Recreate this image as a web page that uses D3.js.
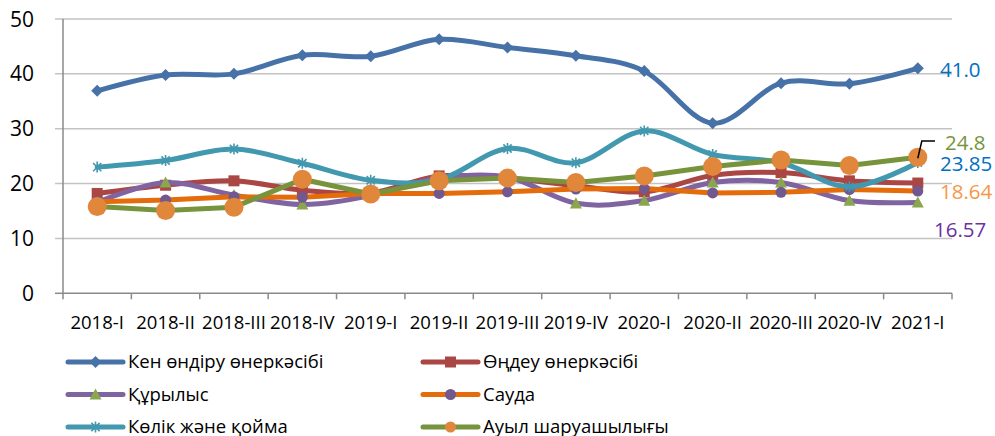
<!DOCTYPE html>
<html lang="kk">
<head>
<meta charset="utf-8">
<style>
  body { margin: 0; background: #fff; }
  text { font-family: "Open Sans", sans-serif; fill: #000; }
  .grid line { stroke: #c3c3c3; stroke-width: 1.5; }
  .axis { stroke: #8a8a8a; stroke-width: 1.5; fill: none; }
  .line { fill: none; stroke-width: 5; stroke-linejoin: round; stroke-linecap: round; }
</style>
</head>
<body>
<script src="https://d3js.org/d3.v7.min.js"></script>
<script>
// data
var quarters = ["2018-I", "2018-II", "2018-III", "2018-IV", "2019-I", "2019-II", "2019-III",
                "2019-IV", "2020-I", "2020-II", "2020-III", "2020-IV", "2021-I"];
var mining      = [36.9, 39.8, 40.0, 43.4, 43.2, 46.3, 44.8, 43.3, 40.5, 31.0, 38.3, 38.2, 41.0];
var manufacture = [18.2, 19.7, 20.5, 18.8, 18.3, 21.4, 21.0, 19.6, 18.5, 21.5, 22.0, 20.5, 20.1];
var building    = [16.6, 20.2, 17.9, 16.2, 17.8, 21.0, 21.2, 16.4, 16.9, 20.2, 20.2, 16.9, 16.57];
var trade       = [16.7, 17.0, 17.6, 17.5, 18.2, 18.2, 18.5, 19.0, 19.1, 18.3, 18.4, 18.9, 18.64];
var transport   = [23.0, 24.2, 26.3, 23.7, 20.6, 20.7, 26.4, 23.8, 29.6, 25.3, 23.8, 19.4, 23.85];
var farming     = [15.8, 15.1, 15.7, 20.8, 18.1, 20.5, 21.0, 20.2, 21.4, 23.1, 24.3, 23.3, 24.8];
var seriesNames = ["Кен өндіру өнеркәсібі", "Өңдеу өнеркәсібі", "Құрылыс", "Сауда",
                   "Көлік және қойма", "Ауыл шаруашылығы"];
var yTicks = [0, 10, 20, 30, 40, 50];
var endLabels = ["41.0", "24.8", "23.85", "18.64", "16.57"];

var width = 995, height = 436;
var plotLeft = 63, plotRight = 952, plotTop = 19, plotBottom = 293.3;

var svg = d3.select("body").append("svg")
  .attr("width", width)
  .attr("height", height);

var x = d3.scaleBand().domain(quarters).range([plotLeft, plotRight]);
var y = d3.scaleLinear().domain([0, 50]).range([plotBottom, plotTop]);
var cx = function(q) { return x(q) + x.bandwidth() / 2; };

// marker shapes
function diamond(r) { return "M0," + (-r) + "L" + r + ",0L0," + r + "L" + (-r) + ",0Z"; }
function square(r) { return "M" + (-r) + "," + (-r) + "h" + 2 * r + "v" + 2 * r + "h" + (-2 * r) + "Z"; }
function triangle(r) { return "M0," + (-r) + "L" + r + "," + r * 0.85 + "L" + (-r) + "," + r * 0.85 + "Z"; }
function circle(r) { return d3.arc()({innerRadius: 0, outerRadius: r, startAngle: 0, endAngle: 2 * Math.PI}); }
function star(r) {
  var d = r * 0.75;
  return "M0," + (-r) + "V" + r + "M" + (-d) + "," + (-d) + "L" + d + "," + d + "M" + d + "," + (-d) + "L" + (-d) + "," + d;
}

var smooth = d3.curveCatmullRom.alpha(0);
var series = [
  {name: seriesNames[0], values: mining,      color: "#4672a8", mark: diamond(6),    mfill: "#4672a8", curve: smooth},
  {name: seriesNames[1], values: manufacture, color: "#aa4643", mark: square(5.5),   mfill: "#aa4643", curve: smooth},
  {name: seriesNames[2], values: building,    color: "#8064a2", mark: triangle(6),   mfill: "#8aa74e", curve: smooth},
  {name: seriesNames[3], values: trade,       color: "#e46c0a", mark: circle(5.5),   mfill: "#71588f", curve: d3.curveLinear},
  {name: seriesNames[4], values: transport,   color: "#4198af", mark: star(5.5),     mfill: "none", stroke: "#4198af", curve: smooth},
  {name: seriesNames[5], values: farming,     color: "#77933c", mark: circle(9.5),   mfill: "#e0873c", curve: d3.curveLinear}
];

// gridlines
svg.append("g").attr("class", "grid")
  .selectAll("line")
  .data(yTicks.slice(1))
  .enter().append("line")
  .attr("x1", plotLeft - 8).attr("x2", plotRight)
  .attr("y1", function(d) { return y(d); })
  .attr("y2", function(d) { return y(d); });

// axes
svg.append("path").attr("class", "axis")
  .attr("d", "M" + plotLeft + "," + plotTop + "V" + plotBottom + "H" + plotRight);
svg.append("g").selectAll("line")
  .data(quarters.concat(["end"]))
  .enter().append("line")
  .attr("class", "axis")
  .attr("x1", function(d, i) { return plotLeft + i * x.step(); })
  .attr("x2", function(d, i) { return plotLeft + i * x.step(); })
  .attr("y1", plotBottom).attr("y2", plotBottom + 6);
svg.append("line").attr("class", "axis")
  .attr("x1", plotLeft - 8).attr("x2", plotLeft).attr("y1", plotBottom).attr("y2", plotBottom);

svg.append("g").selectAll("text")
  .data(yTicks)
  .enter().append("text")
  .attr("x", 34)
  .attr("y", function(d) { return y(d); })
  .attr("dy", "0.36em")
  .attr("text-anchor", "end")
  .style("font-size", "21px")
  .text(function(d) { return d; });

svg.append("g").selectAll("text")
  .data(quarters)
  .enter().append("text")
  .attr("x", cx)
  .attr("y", 323)
  .attr("dy", "0.35em")
  .attr("text-anchor", "middle")
  .style("font-size", "18.5px")
  .text(function(d) { return d; });

// lines and markers, in series order
series.forEach(function(s) {
  var g = svg.append("g");
  var line = d3.line()
    .x(function(d, i) { return cx(quarters[i]); })
    .y(function(d) { return y(d); })
    .curve(s.curve);
  g.append("path").attr("class", "line")
    .attr("stroke", s.color)
    .attr("d", line(s.values));
  g.selectAll(".m")
    .data(s.values)
    .enter().append("path")
    .attr("class", "m")
    .attr("transform", function(d, i) { return "translate(" + cx(quarters[i]) + "," + y(d) + ")"; })
    .attr("d", s.mark)
    .attr("fill", s.mfill)
    .attr("stroke", s.stroke || "none")
    .attr("stroke-width", 1.6);
});

// end-of-line value labels (moved by hand in the original)
var labelPos = [
  {x: 940, y: 70,  color: "#0070c0"},
  {x: 945, y: 143, color: "#77933c"},
  {x: 940, y: 164, color: "#0070c0"},
  {x: 940, y: 192, color: "#f79646"},
  {x: 934, y: 230, color: "#7030a0"}
];
svg.append("g").selectAll("text")
  .data(endLabels)
  .enter().append("text")
  .attr("x", function(d, i) { return labelPos[i].x; })
  .attr("y", function(d, i) { return labelPos[i].y; })
  .attr("dy", "0.35em")
  .style("font-size", "20.5px")
  .style("fill", function(d, i) { return labelPos[i].color; })
  .text(function(d) { return d; });

// leader line for 24.8
var lastX = cx(quarters[quarters.length - 1]);
svg.append("path")
  .attr("d", "M" + lastX + "," + (y(farming[12]) + 1) + "L" + (lastX + 4) + "," + 141 + "H" + 935)
  .attr("fill", "none").attr("stroke", "#000").attr("stroke-width", 1.5);

// legend
var legend = svg.append("g").selectAll("g")
  .data(series)
  .enter().append("g")
  .attr("transform", function(d, i) {
    return "translate(" + (i % 2 ? 423 : 68) + "," + (362 + Math.floor(i / 2) * 32.5) + ")";
  });
legend.append("line")
  .attr("x1", 0).attr("x2", 55)
  .attr("stroke", function(d) { return d.color; })
  .attr("stroke-width", 5).attr("stroke-linecap", "round");
legend.append("path")
  .attr("transform", "translate(27.5,0)")
  .attr("d", function(d, i) { return i === 5 ? circle(5.5) : d.mark; })
  .attr("fill", function(d) { return d.mfill; })
  .attr("stroke", function(d) { return d.stroke || "none"; })
  .attr("stroke-width", 1.6);
legend.append("text")
  .attr("x", 60)
  .attr("dy", "0.35em")
  .style("font-size", "18.5px")
  .text(function(d) { return d.name; });
</script>
</body>
</html>
